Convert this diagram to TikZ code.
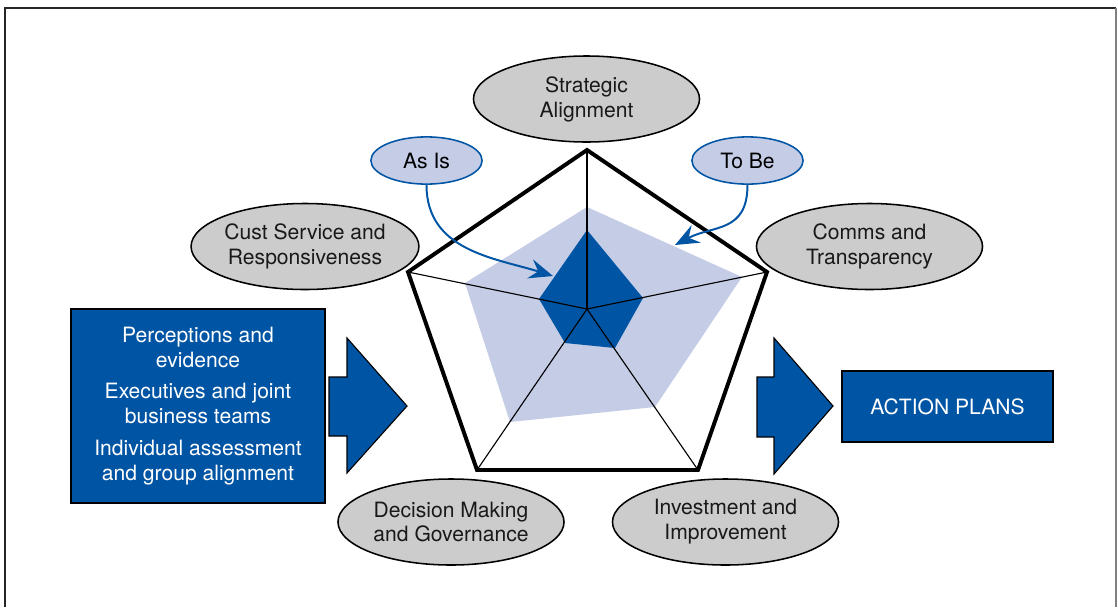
\documentclass[tikz,border=0pt]{standalone}
\usepackage{fontspec}
\setmainfont{TeX Gyre Heros}
\usetikzlibrary{arrows.meta,shapes.geometric}
\definecolor{darkblue}{RGB}{0,84,164}
\definecolor{paleblue}{RGB}{197,204,230}
\definecolor{areagray}{RGB}{204,204,204}

\begin{document}
\begin{tikzpicture}[x=0.025cm,y=-0.025cm,font=\fontsize{15}{17.7}\selectfont,
    area/.style={ellipse,draw,line width=1.1pt,fill=areagray,text=black!90,minimum width=5.65cm,minimum height=2.15cm,inner sep=0pt,align=center},
    phase/.style={ellipse,draw=darkblue,line width=1.1pt,fill=paleblue,minimum width=2.78cm,minimum height=1.18cm,inner sep=0pt},
    bluebox/.style={draw,line width=0.8pt,fill=darkblue,text=white,align=center,inner sep=0pt},
    bigarrow/.style={draw,line width=0.8pt,fill=darkblue,line join=miter},
    pointer/.style={draw=darkblue,line width=1.4pt,-{Stealth[length=17pt,width=14pt,inset=6pt]}}]
    \useasboundingbox (0,0) rectangle (1118,607);
    % frame
    \draw[line width=1.5pt,black!85] (5,607) -- (5,8) -- (1116,8);
    \draw[line width=1pt,gray] (1116,8) -- (1116,607);
    % radar
    \coordinate (c) at (587,309);
    \coordinate (p1) at (587,150);
    \coordinate (p2) at (767,272);
    \coordinate (p3) at (698,470);
    \coordinate (p4) at (477,470);
    \coordinate (p5) at (408,272);
    \fill[paleblue] (587,207) -- (742,277) -- (655,407) -- (510,422) -- (465,283) -- cycle;
    \fill[darkblue] (587,230) -- (643,298) -- (615,348) -- (565,343) -- (539,299) -- cycle;
    \foreach \p in {p1,p2,p3,p4,p5}
        \draw[line width=0.8pt] (c) -- (\p);
    \draw[line width=2.8pt,line join=miter] (p1) -- (p2) -- (p3) -- (p4) -- (p5) -- cycle;
    % areas
    \node[area] (strat) at (586.5,99) {Strategic\\Alignment};
    \node[area] (cust) at (305,246.5) {Cust Service and\\Responsiveness};
    \node[area] (comms) at (869.5,246.5) {Comms and\\Transparency};
    \node[area] (decide) at (451,522) {Decision Making\\and Governance};
    \node[area] (invest) at (725.5,522) {Investment and\\Improvement};
    % as is / to be
    \node[phase] (asis) at (426.5,160.5) {As Is};
    \node[phase] (tobe) at (747.5,160.5) {To Be};
    \coordinate (asisend) at (553,276);
    \coordinate (tobeend) at (675,245);
    \draw[pointer] (asis.south) .. controls +(0,66) and +(-58,-18) .. (asisend);
    \draw[pointer] (tobe.south) .. controls +(0,48) and +(38,-20) .. (tobeend);
    % inputs and outputs
    \node[bluebox,minimum width=6.35cm,minimum height=4.85cm] (inputs) at (198,406)
        {Perceptions and\\evidence\\[5pt]Executives and joint\\business teams\\[5pt]Individual assessment\\and group alignment};
    \node[bluebox,minimum width=5.275cm,minimum height=1.775cm] (plans) at (947.5,406.5) {ACTION PLANS};
    \filldraw[bigarrow] (329,377) -- (347,377) -- (347,338) -- (407,406) -- (347,473) -- (347,436) -- (329,436) -- cycle;
    \filldraw[bigarrow] (757,377) -- (774,377) -- (774,338) -- (833,406) -- (774,474) -- (774,437) -- (757,437) -- cycle;
\end{tikzpicture}
\end{document}
